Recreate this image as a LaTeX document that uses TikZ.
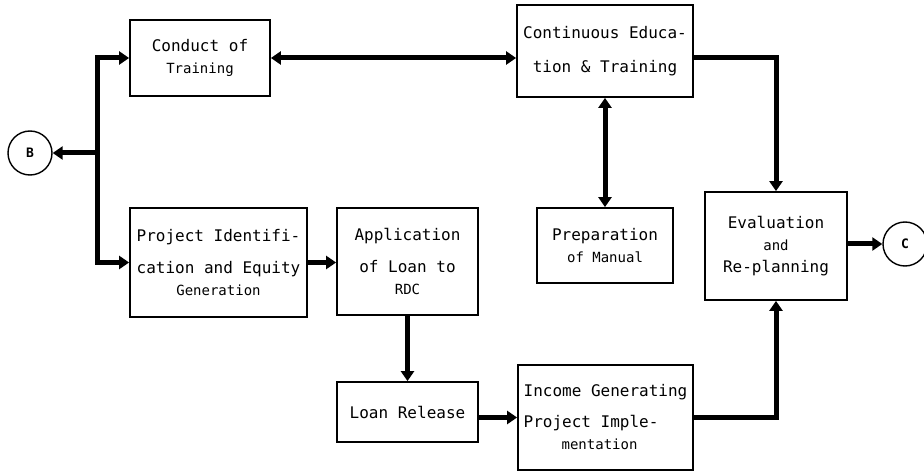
\documentclass[tikz,border=0pt]{standalone}
\usepackage{fontspec}
\setmonofont{DejaVu Sans Mono}
\usetikzlibrary{arrows.meta}
\newcommand{\boxtxt}{\ttfamily\fontsize{16}{22}\selectfont}
\newcommand{\smalltxt}{\fontsize{14}{22}\selectfont}

\begin{document}
\begin{tikzpicture}[
		x=1pt,y=-1pt,
		>={Triangle[length=10pt,width=13pt]},
		box/.style={draw,line width=1.8pt,align=center,inner sep=0pt,font=\boxtxt},
		conn/.style={draw,circle,line width=1.4pt,minimum size=44pt,inner sep=0pt,font=\ttfamily\bfseries\fontsize{13}{15}\selectfont},
		link/.style={line width=5pt,line join=miter}
	]
	\useasboundingbox (0,0) rectangle (924,473);

	\node [conn] (B) at (30,153) {B};
	\node [conn] (C) at (905,244) {C};

	\node [box,minimum width=140pt,minimum height=76pt] (conduct) at (200,58) {Conduct of\\{\smalltxt Training}};
	\node [box,minimum width=176pt,minimum height=92pt] (contedu) at (605,51) {Continuous Educa-\\[12pt]tion \& Training};
	\node [box,minimum width=177pt,minimum height=109pt] (projid) at (218.5,262.5) {Project Identifi-\\[10pt]cation and Equity\\{\smalltxt Generation}};
	\node [box,minimum width=141pt,minimum height=107pt] (appl) at (407.5,261.5) {Application\\[10pt]of Loan to\\{\smalltxt RDC}};
	\node [box,minimum width=136pt,minimum height=75pt] (prep) at (605,245.5) {Preparation\\{\smalltxt of Manual}};
	\node [box,minimum width=142pt,minimum height=108pt] (evalu) at (776,246) {Evaluation\\{\smalltxt and}\\Re-planning};
	\node [box,minimum width=141pt,minimum height=60pt] (release) at (407.5,412) {Loan Release};
	\node [box,align=left,minimum width=175pt,minimum height=105pt] (income) at (605.5,417.5) {Income Generating\\[9pt]Project Imple-\\\hspace*{38pt}{\smalltxt mentation}};

	\coordinate (busT) at (97,58);
	\coordinate (busM) at (97,153);
	\coordinate (busB) at (97,262.5);

	\draw [link,<->] (conduct.west) -- (busT) -- (busB) -- (projid.west);
	\draw [link,->] (busM) -- (B);
	\draw [link,<->] (conduct.east) -- (conduct.east -| contedu.west);
	\draw [link,->] (contedu.east |- conduct.east) -| (evalu.north);
	\draw [link,<->] (contedu.south) -- (prep.north);
	\draw [link,->] (projid.east) -- (projid.east -| appl.west);
	\draw [link,->] (appl.south) -- (release.north);
	\draw [link,->] (income.west -| release.east) -- (income.west);
	\draw [link,->] (income.east) -| (evalu.south);
	\draw [link,->] (C -| evalu.east) -- (C);

\end{tikzpicture}
\end{document}
